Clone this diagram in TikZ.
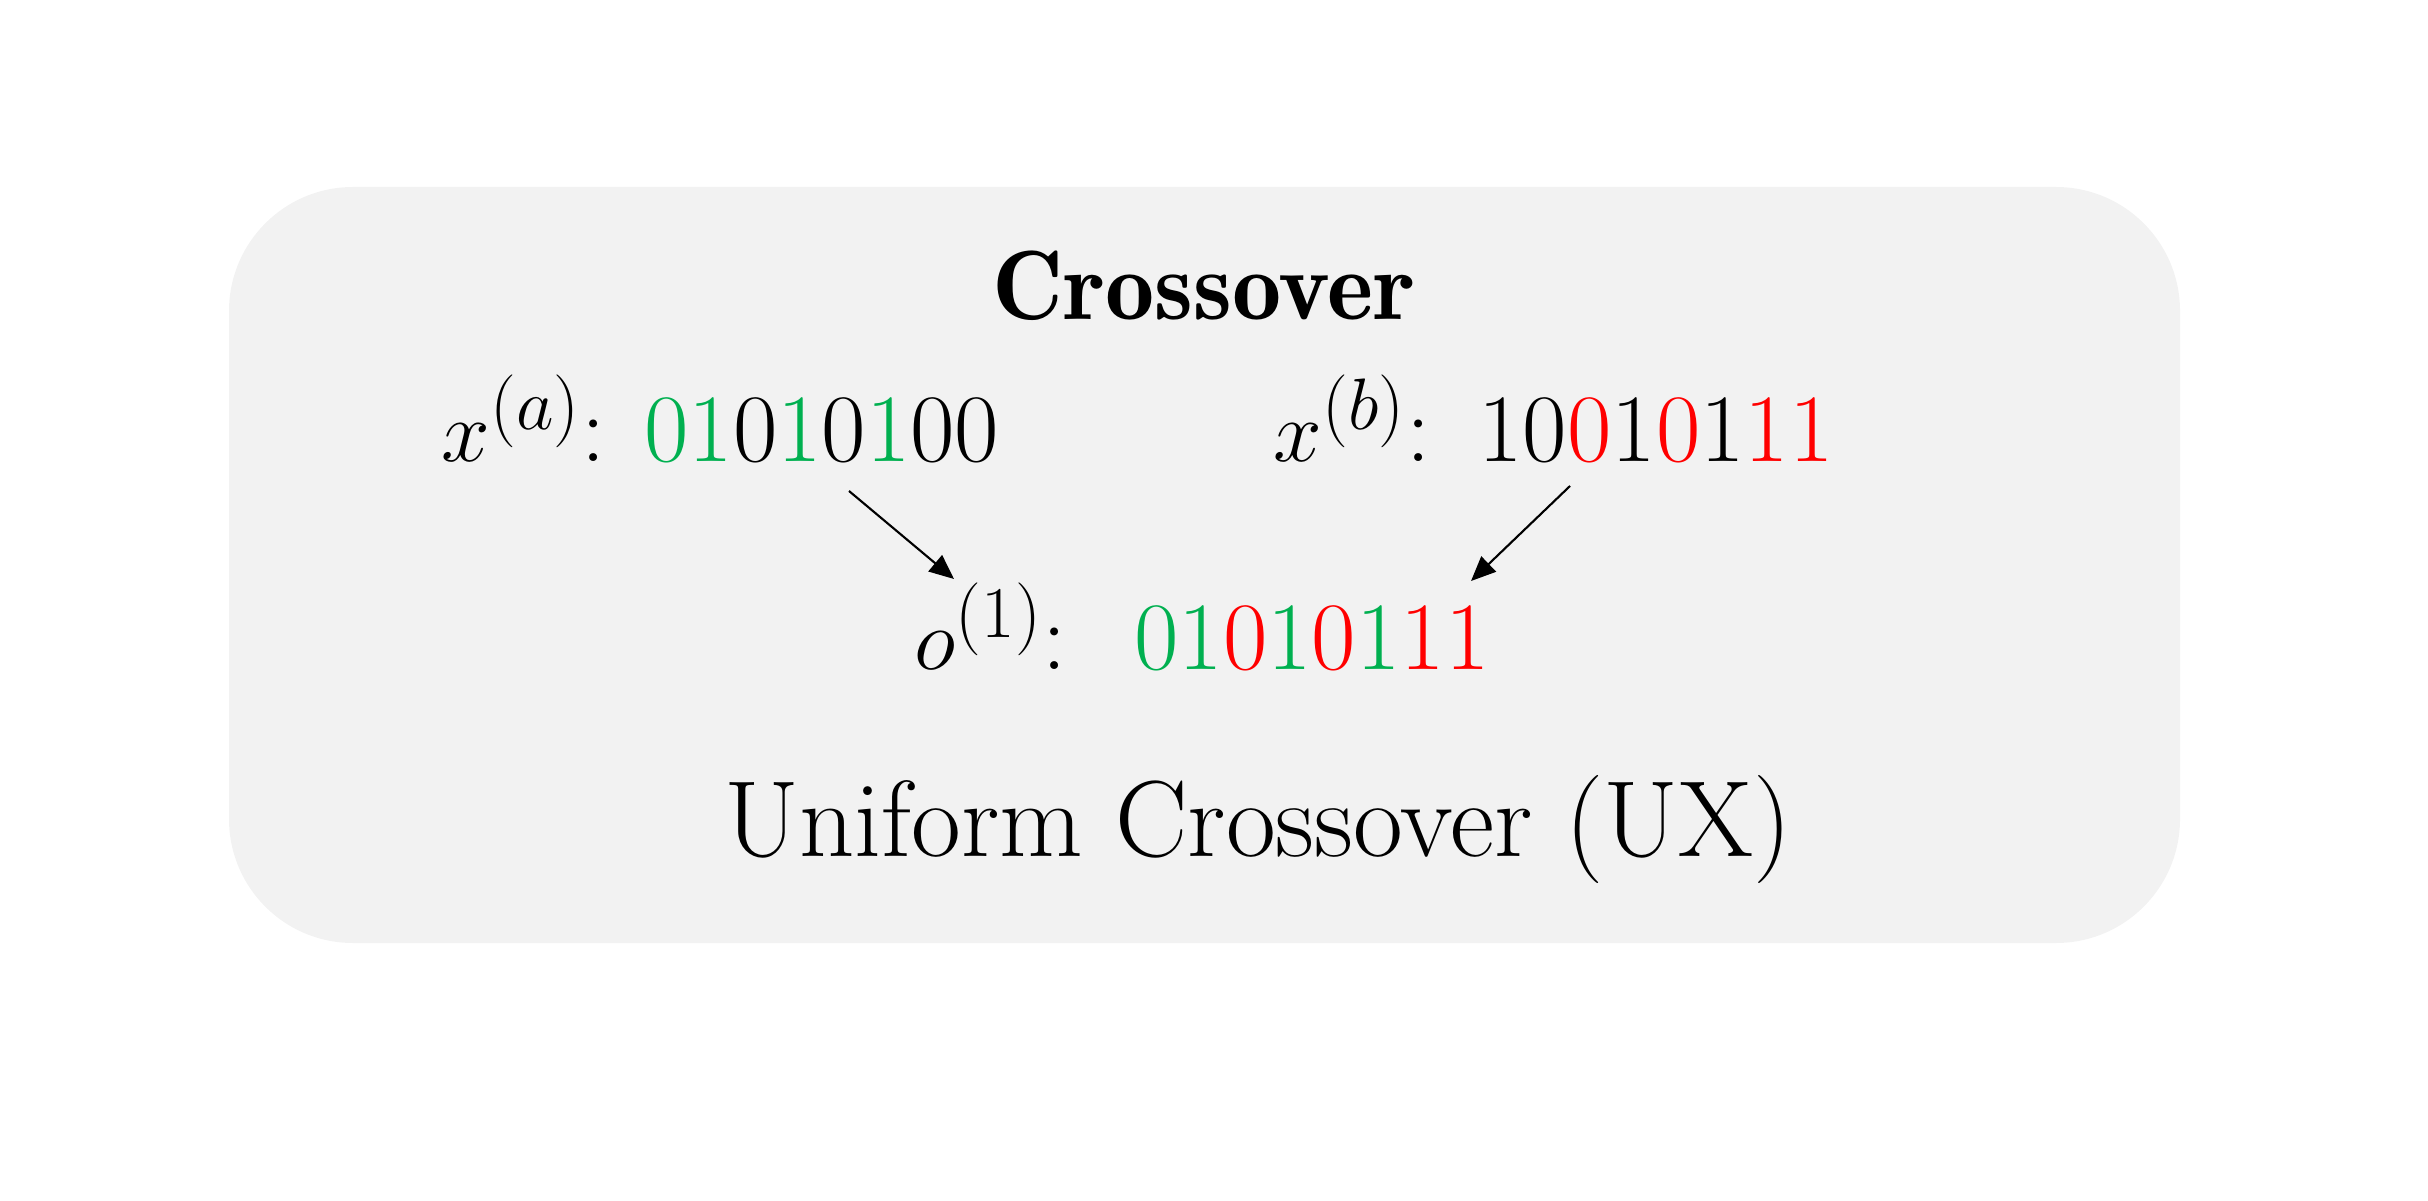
\documentclass[tikz,border=0pt]{standalone}
\usepackage{fontspec}
\usetikzlibrary{arrows.meta}

\newfontfamily\demifont{lmromandemi10-regular.otf}
\definecolor{bgbox}{HTML}{F2F2F2}
\definecolor{keepA}{HTML}{00B050}
\definecolor{keepB}{HTML}{FF0000}

\begin{document}
\begin{tikzpicture}[
   big/.style={font=\fontsize{30.8}{36}\selectfont, anchor=base, inner sep=0pt},
   bits/.style={font=\fontsize{27.5}{33}\selectfont, anchor=base west, inner sep=0pt},
   ]

   \useasboundingbox (0,0) rectangle (24.28,12);

   % 背景
   \fill [bgbox, rounded corners=1.24cm](2.29,2.57) rectangle (21.80,10.13);

   % タイトル
   \node [big, font=\demifont\fontsize{28}{34}\selectfont] (title) at (12.04,8.80) {Crossover};

   % 親
   \node [bits] (xa) at (4.41,7.39) {$x^{(a)}$: \textcolor{keepA}{01}0\textcolor{keepA}{1}0\textcolor{keepA}{1}00};
   \node [bits] (xb) at (12.73,7.39) {$x^{(b)}$:\hspace{0.5em}10\textcolor{keepB}{0}1\textcolor{keepB}{0}1\textcolor{keepB}{11}};

   % 子
   \node [bits] (child) at (9.14,5.31) {$o^{(1)}$:\hspace{0.7em}\textcolor{keepA}{01}\textcolor{keepB}{0}\textcolor{keepA}{1}\textcolor{keepB}{0}\textcolor{keepA}{1}\textcolor{keepB}{11}};

   % 矢印
   \coordinate (xa-out) at (8.49,7.09);
   \coordinate (xb-out) at (15.70,7.14);
   \coordinate (child-inA) at (9.54,6.21);
   \coordinate (child-inB) at (14.71,6.19);
   \draw [line width=0.6pt, -{Triangle[length=7pt,width=6pt]}](xa-out)--(child-inA);
   \draw [line width=0.6pt, -{Triangle[length=7pt,width=6pt]}](xb-out)--(child-inB);

   \node [big] (name) at (12.58,3.44) {Uniform Crossover (UX)};

\end{tikzpicture}
\end{document}
